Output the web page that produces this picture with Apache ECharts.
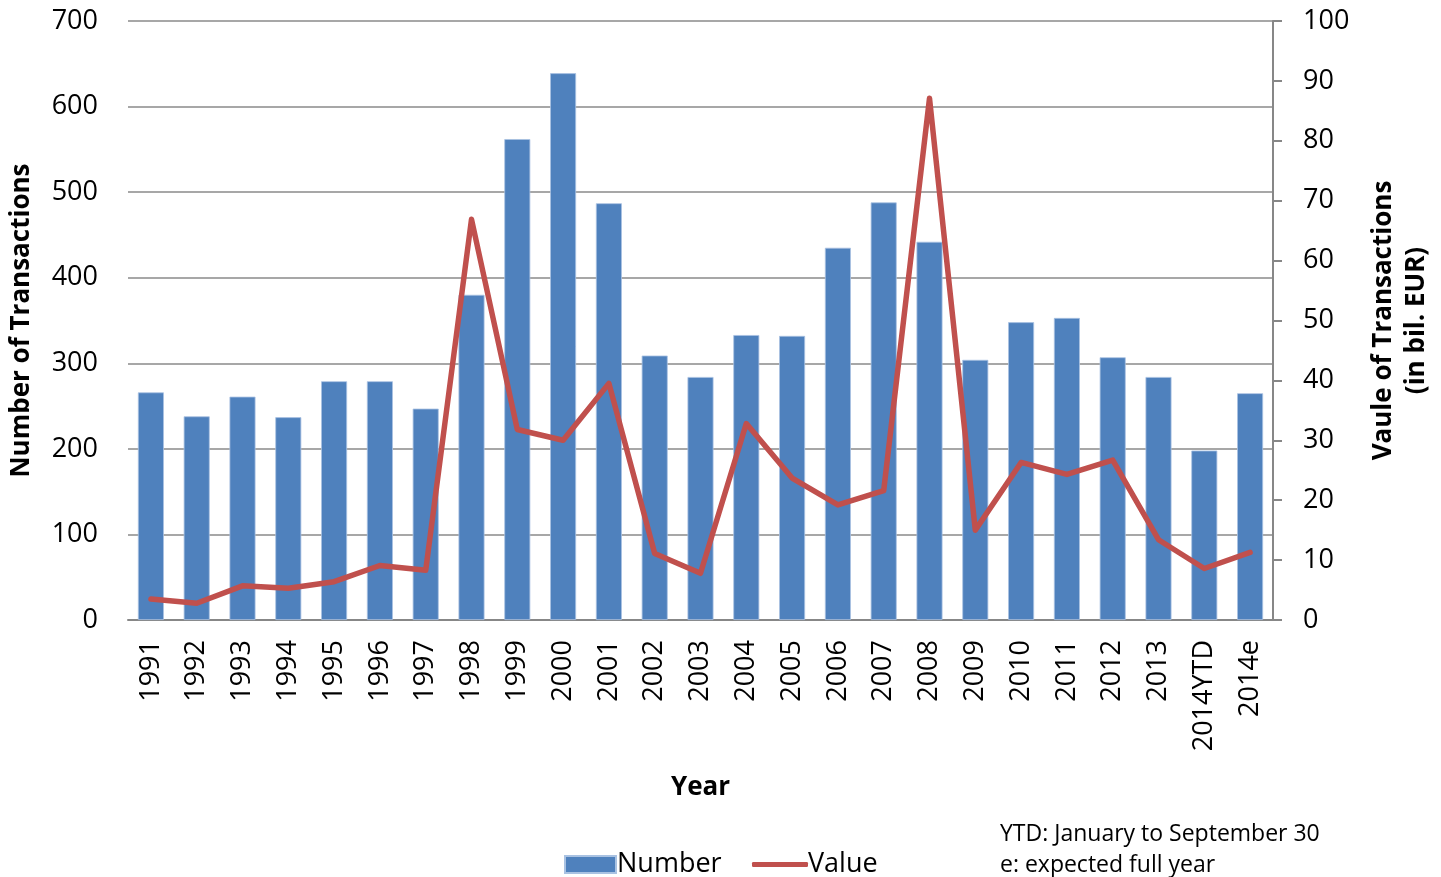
<!DOCTYPE html>
<html>
<head>
<meta charset="utf-8">
<script src="https://cdn.jsdelivr.net/npm/echarts@6/dist/echarts.min.js"></script>
<style>
html,body{margin:0;padding:0;background:#fff;}
#chart{width:1441px;height:877px;}
</style>
</head>
<body>
<div id="chart"></div>
<script>
const categories = ['1991','1992','1993','1994','1995','1996','1997','1998','1999','2000','2001','2002','2003','2004','2005','2006','2007','2008','2009','2010','2011','2012','2013','2014YTD','2014e'];
const numberValues = [266,238,261,237,279,279,247,380,562,639,487,309,284,333,332,435,488,442,304,348,353,307,284,198,265];
const valueValues = [3.5,2.8,5.7,5.3,6.4,9.1,8.3,66.9,31.8,30.0,39.5,11.1,7.8,32.8,23.7,19.2,21.6,87.1,15.0,26.3,24.3,26.7,13.4,8.6,11.3];
const leftTicks = {min:0, max:700, interval:100};
const rightTicks = {min:0, max:100, interval:10};
const noteLines = ['YTD: January to September 30', 'e: expected full year'];

const FONT = '"Open Sans", "Noto Sans", sans-serif';
const chart = echarts.init(document.getElementById('chart'), null, {renderer:'canvas'});
chart.setOption({
  animation:false,
  textStyle:{fontFamily:FONT, color:'#000'},
  grid:{left:128, right:167, top:21, bottom:257, containLabel:false},
  legend:[
    {
      left:559, top:846, itemWidth:51, itemHeight:17,
      textStyle:{fontFamily:FONT, fontSize:27, color:'#000', padding:[0,0,0,-4]},
      data:[{name:'Number', icon:'rect'}]
    },
    {
      left:747, top:846, itemWidth:56, itemHeight:5,
      textStyle:{fontFamily:FONT, fontSize:27, color:'#000', padding:[0,0,0,-5]},
      data:[{name:'Value', icon:'roundRect', itemStyle:{color:'#C0504D'}}]
    }
  ],
  graphic:[
    {type:'text', left:1000, top:823, style:{text:noteLines[0], font:'23px ' + FONT, fill:'#000'}},
    {type:'text', left:1000, top:854, style:{text:noteLines[1], font:'23px ' + FONT, fill:'#000'}}
  ],
  xAxis:{
    type:'category', data:categories,
    name:'Year', nameLocation:'middle', nameGap:155,
    nameTextStyle:{fontFamily:FONT, fontSize:26, fontWeight:'bold', color:'#000'},
    axisLine:{lineStyle:{color:'#878787', width:2}},
    axisTick:{show:false},
    axisLabel:{rotate:90, fontSize:27, color:'#000', margin:20, fontFamily:FONT}
  },
  yAxis:[
    {
      type:'value', position:'left', min:leftTicks.min, max:leftTicks.max, interval:leftTicks.interval,
      name:'Number of Transactions', nameLocation:'middle', nameGap:93, nameRotate:90,
      nameTextStyle:{fontFamily:FONT, fontSize:26, fontWeight:'bold', color:'#000'},
      axisLine:{show:false}, axisTick:{show:false},
      axisLabel:{fontSize:27, color:'#000', margin:30, fontFamily:FONT},
      splitLine:{lineStyle:{color:'#8a8a8a', width:1.6}}
    },
    {
      type:'value', position:'right', min:rightTicks.min, max:rightTicks.max, interval:rightTicks.interval,
      name:'Vaule of Transactions\n(in bil. EUR)', nameLocation:'middle', nameGap:94, nameRotate:90,
      nameTextStyle:{fontFamily:FONT, fontSize:26, fontWeight:'bold', color:'#000', lineHeight:33},
      axisLine:{show:true, lineStyle:{color:'#878787', width:2}},
      axisTick:{show:true, inside:false, length:9, lineStyle:{color:'#878787', width:2}},
      axisLabel:{fontSize:27, color:'#000', margin:30, fontFamily:FONT},
      splitLine:{show:false}
    }
  ],
  series:[
    {
      name:'Number', type:'bar', data:numberValues, yAxisIndex:0, barWidth:26,
      itemStyle:{color:'#4F81BD', borderColor:'#a9c2e2', borderWidth:0.8}
    },
    {
      name:'Value', type:'line', data:valueValues, yAxisIndex:1,
      symbol:'none',
      lineStyle:{color:'#C0504D', width:5.5, cap:'round', join:'round'},
      itemStyle:{color:'#C0504D'}
    }
  ]
});
</script>
</body>
</html>
